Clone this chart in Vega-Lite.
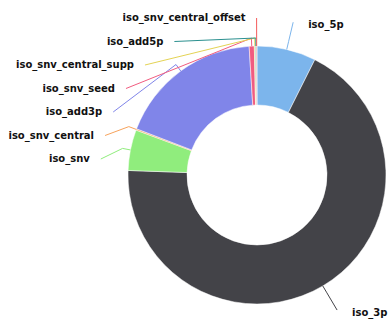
{
  "$schema": "https://vega.github.io/schema/vega-lite/v6.json",
  "width": 262,
  "height": 296,
  "autosize": {"type": "none"},
  "padding": {"left": 126, "top": 27, "right": 0, "bottom": 0},
  "background": "white",
  "config": {"view": {"stroke": null}},
  "data": {
    "values": [
      {"name": "iso_5p", "value": 7.4, "idx": 1},
      {"name": "iso_3p", "value": 68.16, "idx": 2},
      {"name": "iso_snv", "value": 5.1, "idx": 3},
      {"name": "iso_snv_central", "value": 0.17, "idx": 4},
      {"name": "iso_add3p", "value": 18.2, "idx": 5},
      {"name": "iso_snv_seed", "value": 0.64, "idx": 6},
      {"name": "iso_snv_central_supp", "value": 0.14, "idx": 7},
      {"name": "iso_add5p", "value": 0.11, "idx": 8},
      {"name": "iso_snv_central_offset", "value": 0.08, "idx": 9}
    ]
  },
  "transform": [
    {"joinaggregate": [{"op": "sum", "field": "value", "as": "total"}]},
    {"window": [{"op": "sum", "field": "value", "as": "cum"}], "sort": [{"field": "idx", "order": "ascending"}], "frame": [null, 0]},
    {"calculate": "2*PI*(datum.cum - datum.value/2)/datum.total", "as": "a"},
    {"calculate": "sin(datum.a) >= 0 ? 1 : -1", "as": "sgn"},
    {"calculate": "datum.sgn > 0 ? 'right' : 'left'", "as": "side"},
    {"calculate": "157*cos(datum.a)", "as": "ny"},
    {"window": [{"op": "row_number", "as": "slot"}], "groupby": ["side"], "sort": [{"field": "ny", "order": "descending"}]},
    {"calculate": "min(datum.ny, 157 - (datum.slot - 1)*23.5)", "as": "ly"},
    {"calculate": "datum.sgn*sqrt(max(0, 157*157 - datum.ly*datum.ly))", "as": "lx"},
    {"calculate": "datum.lx + datum.sgn*11", "as": "tx"},
    {"calculate": "129*sin(datum.a)", "as": "ax"},
    {"calculate": "129*cos(datum.a)", "as": "ay"},
    {"calculate": "137*sin(datum.a)", "as": "bx"},
    {"calculate": "137*cos(datum.a)", "as": "by"}
  ],
  "layer": [
    {
      "mark": {"type": "arc", "outerRadius": 129, "innerRadius": 70, "stroke": "white", "strokeWidth": 0.5},
      "encoding": {
        "theta": {"field": "value", "type": "quantitative", "stack": true},
        "order": {"field": "idx", "type": "quantitative"},
        "color": {
          "field": "name", "type": "nominal", "legend": null,
          "scale": {
            "domain": ["iso_5p", "iso_3p", "iso_snv", "iso_snv_central", "iso_add3p", "iso_snv_seed", "iso_snv_central_supp", "iso_add5p", "iso_snv_central_offset"],
            "range": ["#7cb5ec", "#434348", "#90ed7d", "#f7a35c", "#8085e9", "#f15c80", "#e4d354", "#2b908f", "#f45b5b"]
          }
        }
      }
    },
    {
      "mark": {"type": "rule", "strokeWidth": 1},
      "encoding": {
        "x": {"field": "ax", "type": "quantitative", "scale": {"domain": [-131, 131], "nice": false, "zero": false}, "axis": null},
        "y": {"field": "ay", "type": "quantitative", "scale": {"domain": [-148, 148], "nice": false, "zero": false}, "axis": null},
        "x2": {"field": "bx"},
        "y2": {"field": "by"},
        "color": {"field": "name", "type": "nominal", "legend": null}
      }
    },
    {
      "mark": {"type": "rule", "strokeWidth": 1},
      "encoding": {
        "x": {"field": "bx", "type": "quantitative", "scale": {"domain": [-131, 131], "nice": false, "zero": false}, "axis": null},
        "y": {"field": "by", "type": "quantitative", "scale": {"domain": [-148, 148], "nice": false, "zero": false}, "axis": null},
        "x2": {"field": "lx"},
        "y2": {"field": "ly"},
        "color": {"field": "name", "type": "nominal", "legend": null}
      }
    },
    {
      "transform": [{"filter": "datum.side == 'left'"}],
      "mark": {"type": "text", "align": "right", "baseline": "middle", "font": "DejaVu Sans", "fontWeight": "bold", "fontSize": 10, "color": "#111111"},
      "encoding": {
        "x": {"field": "tx", "type": "quantitative", "scale": {"domain": [-131, 131], "nice": false, "zero": false}, "axis": null},
        "y": {"field": "ly", "type": "quantitative", "scale": {"domain": [-148, 148], "nice": false, "zero": false}, "axis": null},
        "text": {"field": "name", "type": "nominal"}
      }
    },
    {
      "transform": [{"filter": "datum.side == 'right'"}],
      "mark": {"type": "text", "align": "left", "baseline": "middle", "dx": 4, "dy": 3, "font": "DejaVu Sans", "fontWeight": "bold", "fontSize": 10, "color": "#111111"},
      "encoding": {
        "x": {"field": "tx", "type": "quantitative", "scale": {"domain": [-131, 131], "nice": false, "zero": false}, "axis": null},
        "y": {"field": "ly", "type": "quantitative", "scale": {"domain": [-148, 148], "nice": false, "zero": false}, "axis": null},
        "text": {"field": "name", "type": "nominal"}
      }
    }
  ]
}
